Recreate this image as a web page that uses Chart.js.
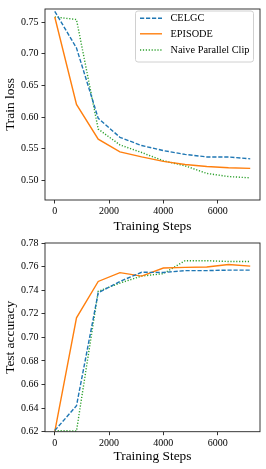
<!DOCTYPE html>
<html>
<head>
<meta charset="utf-8">
<script src="https://cdn.jsdelivr.net/npm/chart.js@4/dist/chart.umd.min.js"></script>
<style>
  html, body { margin: 0; padding: 0; background: #fff; }
  .box { position: absolute; left: 0; width: 266px; }
  canvas { display: block; }
</style>
</head>
<body>
<div class="box" style="top:0;height:234px"><canvas id="c1" width="266" height="234"></canvas></div>
<div class="box" style="top:234px;height:235px"><canvas id="c2" width="266" height="235"></canvas></div>
<script>
// ---- data ----
const steps = [0, 800, 1600, 2400, 3200, 4000, 4800, 5600, 6400, 7200];
const seriesNames = ["CELGC", "EPISODE", "Naive Parallel Clip"];
const lossCELGC   = [0.767, 0.709, 0.598, 0.568, 0.555, 0.547, 0.541, 0.537, 0.537, 0.534];
const lossEPISODE = [0.758, 0.620, 0.565, 0.545, 0.537, 0.530, 0.525, 0.522, 0.520, 0.519];
const lossNaive   = [0.758, 0.754, 0.581, 0.556, 0.544, 0.531, 0.523, 0.511, 0.506, 0.504];
const accCELGC    = [0.621, 0.642, 0.7378, 0.7474, 0.7552, 0.7550, 0.7566, 0.7566, 0.7570, 0.7570];
const accEPISODE  = [0.620, 0.7166, 0.7474, 0.7549, 0.7519, 0.7588, 0.7593, 0.7596, 0.7618, 0.7604];
const accNaive    = [0.621, 0.6206, 0.7390, 0.7460, 0.7520, 0.7540, 0.7650, 0.7650, 0.7643, 0.7643];
const xTicks = [0, 2000, 4000, 6000];
const yTicksLoss = [0.50, 0.55, 0.60, 0.65, 0.70, 0.75];
const yTicksAcc = [0.62, 0.64, 0.66, 0.68, 0.70, 0.72, 0.74, 0.76, 0.78];
const xTitle = "Training Steps";
const yTitleLoss = "Train loss";
const yTitleAcc = "Test accuracy";

// ---- styles ----
const FONT = "'Liberation Serif', 'Times New Roman', serif";
const styles = [
  { color: '#1f77b4', dash: [4.2, 1.8] },
  { color: '#ff7f0e', dash: [] },
  { color: '#2ca02c', dash: [1.2, 1.7] }
];

function makeDatasets(arrs) {
  return arrs.map((arr, i) => ({
    label: seriesNames[i],
    data: steps.map((s, j) => ({ x: s, y: arr[j] })),
    borderColor: styles[i].color,
    backgroundColor: styles[i].color,
    borderDash: styles[i].dash,
    borderWidth: 1.4,
    pointRadius: 0,
    tension: 0,
    fill: false
  }));
}

const framePlugin = {
  id: 'frame',
  afterDraw(chart) {
    const { ctx, chartArea: a } = chart;
    ctx.save();
    ctx.strokeStyle = '#222';
    ctx.lineWidth = 0.9;
    ctx.strokeRect(a.left, a.top, a.right - a.left, a.bottom - a.top);
    ctx.restore();
  }
};

const boxLegendPlugin = {
  id: 'boxLegend',
  afterDraw(chart, args, opts) {
    if (!opts || !opts.show) return;
    const ctx = chart.ctx;
    ctx.save();
    const x0 = opts.x, y0 = opts.y, w = opts.w, h = opts.h, r = 2.5;
    ctx.beginPath();
    ctx.moveTo(x0 + r, y0);
    ctx.lineTo(x0 + w - r, y0); ctx.quadraticCurveTo(x0 + w, y0, x0 + w, y0 + r);
    ctx.lineTo(x0 + w, y0 + h - r); ctx.quadraticCurveTo(x0 + w, y0 + h, x0 + w - r, y0 + h);
    ctx.lineTo(x0 + r, y0 + h); ctx.quadraticCurveTo(x0, y0 + h, x0, y0 + h - r);
    ctx.lineTo(x0, y0 + r); ctx.quadraticCurveTo(x0, y0, x0 + r, y0);
    ctx.closePath();
    ctx.fillStyle = 'rgba(255,255,255,0.85)';
    ctx.fill();
    ctx.strokeStyle = '#d0d0d0';
    ctx.lineWidth = 1;
    ctx.stroke();
    ctx.font = "10.3px " + FONT;
    ctx.textBaseline = 'middle';
    ctx.fillStyle = '#000';
    chart.data.datasets.forEach((ds, i) => {
      const y = opts.rows[i];
      ctx.beginPath();
      ctx.setLineDash(ds.borderDash || []);
      ctx.strokeStyle = ds.borderColor;
      ctx.lineWidth = ds.borderWidth;
      ctx.moveTo(opts.lineX0, y);
      ctx.lineTo(opts.lineX1, y);
      ctx.stroke();
      ctx.setLineDash([]);
      ctx.fillText(ds.label, opts.textX, y);
    });
    ctx.restore();
  }
};

function makeOptions(yMin, yMax, yTickVals, yTitle, padTop, xScaleH, xTitlePadBottom, legendOpts) {
  return {
    responsive: false,
    animation: false,
    devicePixelRatio: 1,
    layout: { padding: { top: padTop, right: 6, left: 0, bottom: 0 } },
    plugins: {
      legend: { display: false },
      tooltip: { enabled: false },
      boxLegend: legendOpts
    },
    scales: {
      x: {
        type: 'linear',
        min: -360, max: 7560,
        afterBuildTicks: s => { s.ticks = xTicks.map(v => ({ value: v })); },
        afterFit: s => { s.height = xScaleH; },
        grid: { drawOnChartArea: false, drawTicks: true, tickLength: 3.5, tickColor: '#000', tickWidth: 0.8 },
        border: { display: false },
        ticks: { color: '#000', padding: 2, maxRotation: 0, autoSkip: false,
                 font: { family: FONT, size: 10 }, callback: v => String(v) },
        title: { display: true, text: xTitle, color: '#000',
                 font: { family: FONT, size: 13.4, lineHeight: 1 },
                 padding: { top: 0, bottom: xTitlePadBottom } }
      },
      y: {
        type: 'linear',
        min: yMin, max: yMax,
        afterBuildTicks: s => { s.ticks = yTickVals.map(v => ({ value: v })); },
        afterFit: s => { s.width = 45; },
        grid: { drawOnChartArea: false, drawTicks: true, tickLength: 3.5, tickColor: '#000', tickWidth: 0.8 },
        border: { display: false },
        ticks: { color: '#000', padding: 3, autoSkip: false,
                 font: { family: FONT, size: 10 }, callback: v => Number(v).toFixed(2) },
        title: { display: true, text: yTitle, color: '#000',
                 font: { family: FONT, size: 13.4, lineHeight: 1 },
                 padding: { top: 3.3, bottom: 0 } }
      }
    }
  };
}

new Chart(document.getElementById('c1'), {
  type: 'line',
  data: { datasets: makeDatasets([lossCELGC, lossEPISODE, lossNaive]) },
  options: makeOptions(0.469, 0.7706, yTicksLoss, yTitleLoss, 5, 34, 0.8,
    { show: true, x: 135.5, y: 11, w: 118, h: 51, lineX0: 140, lineX1: 162, textX: 170.5, rows: [18.3, 33.8, 50] }),
  plugins: [framePlugin, boxLegendPlugin]
});

new Chart(document.getElementById('c2'), {
  type: 'line',
  data: { datasets: makeDatasets([accCELGC, accEPISODE, accNaive]) },
  options: makeOptions(0.62, 0.78, yTicksAcc, yTitleAcc, 4.3, 37.3, 5.8, { show: false }),
  plugins: [framePlugin, boxLegendPlugin]
});
</script>
</body>
</html>
